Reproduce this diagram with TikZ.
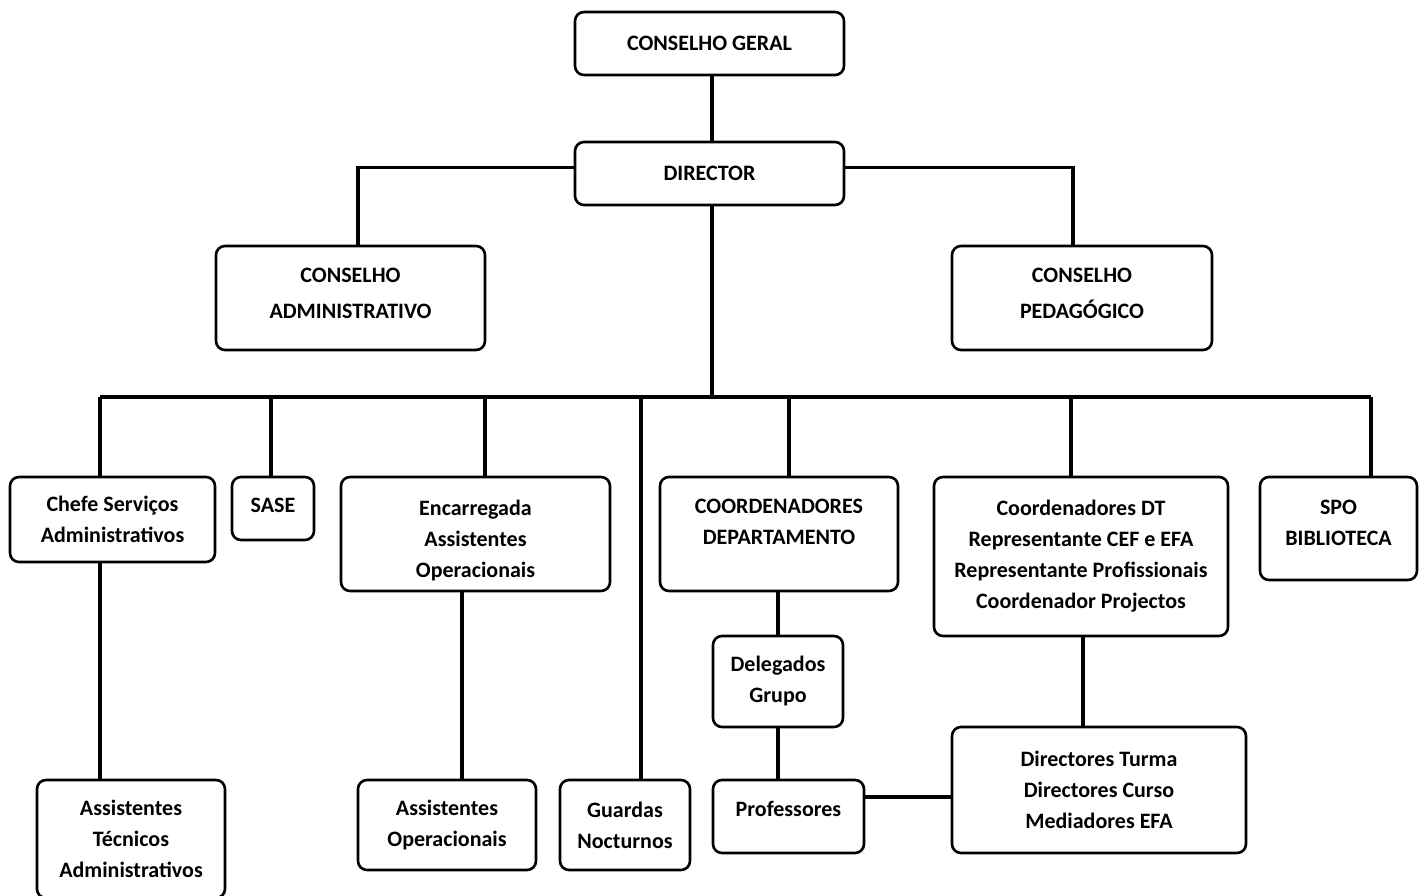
\documentclass[tikz,border=0pt]{standalone}
\usepackage{fontspec}
\setmainfont{Carlito}
\tikzset{bx/.style  = {draw, line width=2.6pt, rounded corners=9pt, align=center, inner sep=0pt, font=\bfseries\fontsize{22}{31}\selectfont},
         bxw/.style = {bx, font=\bfseries\fontsize{22}{36}\selectfont},
         ln/.style  = {line width=3.6pt}}

\begin{document}
\begin{tikzpicture}[x=1pt, y=-1pt]
    \useasboundingbox (0,0) rectangle (1419,896);
    \node[bx, minimum width=269pt, minimum height=63pt] (gen) at (709.5,43.5) {CONSELHO GERAL};
    \node[bx, minimum width=269pt, minimum height=63pt] (dir) at (709.5,173.5) {DIRECTOR};
    \node[bxw, minimum width=269pt, minimum height=104pt, text depth=10pt] (cadm) at (350.5,298) {CONSELHO\\ADMINISTRATIVO};
    \node[bxw, minimum width=260pt, minimum height=104pt, text depth=10pt] (cped) at (1082,298) {CONSELHO\\PEDAG\'OGICO};
    \node[bx, minimum width=205pt, minimum height=85pt] (chefe) at (112.5,519.5) {Chefe Servi\c{c}os\\Administrativos};
    \node[bx, minimum width=82pt, minimum height=63pt, text depth=6pt] (sase) at (273,508.5) {SASE};
    \node[bx, minimum width=269pt, minimum height=114pt, text height=91pt] (enc) at (475.5,534) {Encarregada\\Assistentes\\Operacionais};
    \node[bx, minimum width=238pt, minimum height=114pt, text depth=24pt] (cdep) at (779,534) {COORDENADORES\\DEPARTAMENTO};
    \node[bx, minimum width=294pt, minimum height=159pt] (cdt) at (1081,556.5) {Coordenadores DT\\Representante CEF e EFA\\Representante Profissionais\\Coordenador Projectos};
    \node[bx, minimum width=157pt, minimum height=103pt, text depth=12pt] (spo) at (1338.5,528.5) {SPO\\BIBLIOTECA};
    \node[bx, minimum width=130pt, minimum height=91pt] (deleg) at (778,681.5) {Delegados\\Grupo};
    \node[bx, minimum width=151pt, minimum height=73pt, text depth=16pt] (prof) at (788.5,816.5) {Professores};
    \node[bx, minimum width=294pt, minimum height=126pt] (dtur) at (1099,790) {Directores Turma\\Directores Curso\\Mediadores EFA};
    \node[bx, minimum width=188pt, minimum height=118pt] (atec) at (131,839) {Assistentes\\T\'ecnicos\\Administrativos};
    \node[bx, minimum width=178pt, minimum height=90pt] (aop) at (447,825) {Assistentes\\Operacionais};
    \node[bx, minimum width=130pt, minimum height=90pt] (guard) at (625,825) {Guardas\\Nocturnos};
    \coordinate (bus) at (712,397);
    \draw[ln] ([xshift=2.5pt]gen.south) -- ([xshift=2.5pt]dir.north);
    \draw[ln] ([yshift=6pt]dir.west) -| ([xshift=7.5pt]cadm.north);
    \draw[ln] ([yshift=6pt]dir.east) -| ([xshift=-9pt]cped.north);
    \draw[ln] ([xshift=2.5pt]dir.south) -- (bus);
    \draw[ln] ([xshift=-12.5pt]chefe.north |- bus) -- ([xshift=32.5pt]spo.north |- bus);
    \foreach \n/\dx in {chefe/-12.5, sase/-2, enc/9.5, cdep/10, cdt/-10, spo/32.5, guard/16}
        \draw[ln] ([xshift=\dx pt]\n.north) -- ([xshift=\dx pt]\n.north |- bus);
    \draw[ln] ([xshift=-12.5pt]chefe.south) -- ([xshift=-12.5pt]chefe.south |- atec.north);
    \draw[ln] ([xshift=-13.5pt]enc.south) -- ([xshift=-13.5pt]enc.south |- aop.north);
    \draw[ln] (deleg.north) -- (deleg.north |- cdep.south);
    \draw[ln] (deleg.south) -- (deleg.south |- prof.north);
    \draw[ln] ([xshift=2pt]cdt.south) -- ([xshift=2pt]cdt.south |- dtur.north);
    \draw[ln] ([yshift=-7pt]dtur.west) -- ([yshift=-7pt]dtur.west -| prof.east);
\end{tikzpicture}
\end{document}
